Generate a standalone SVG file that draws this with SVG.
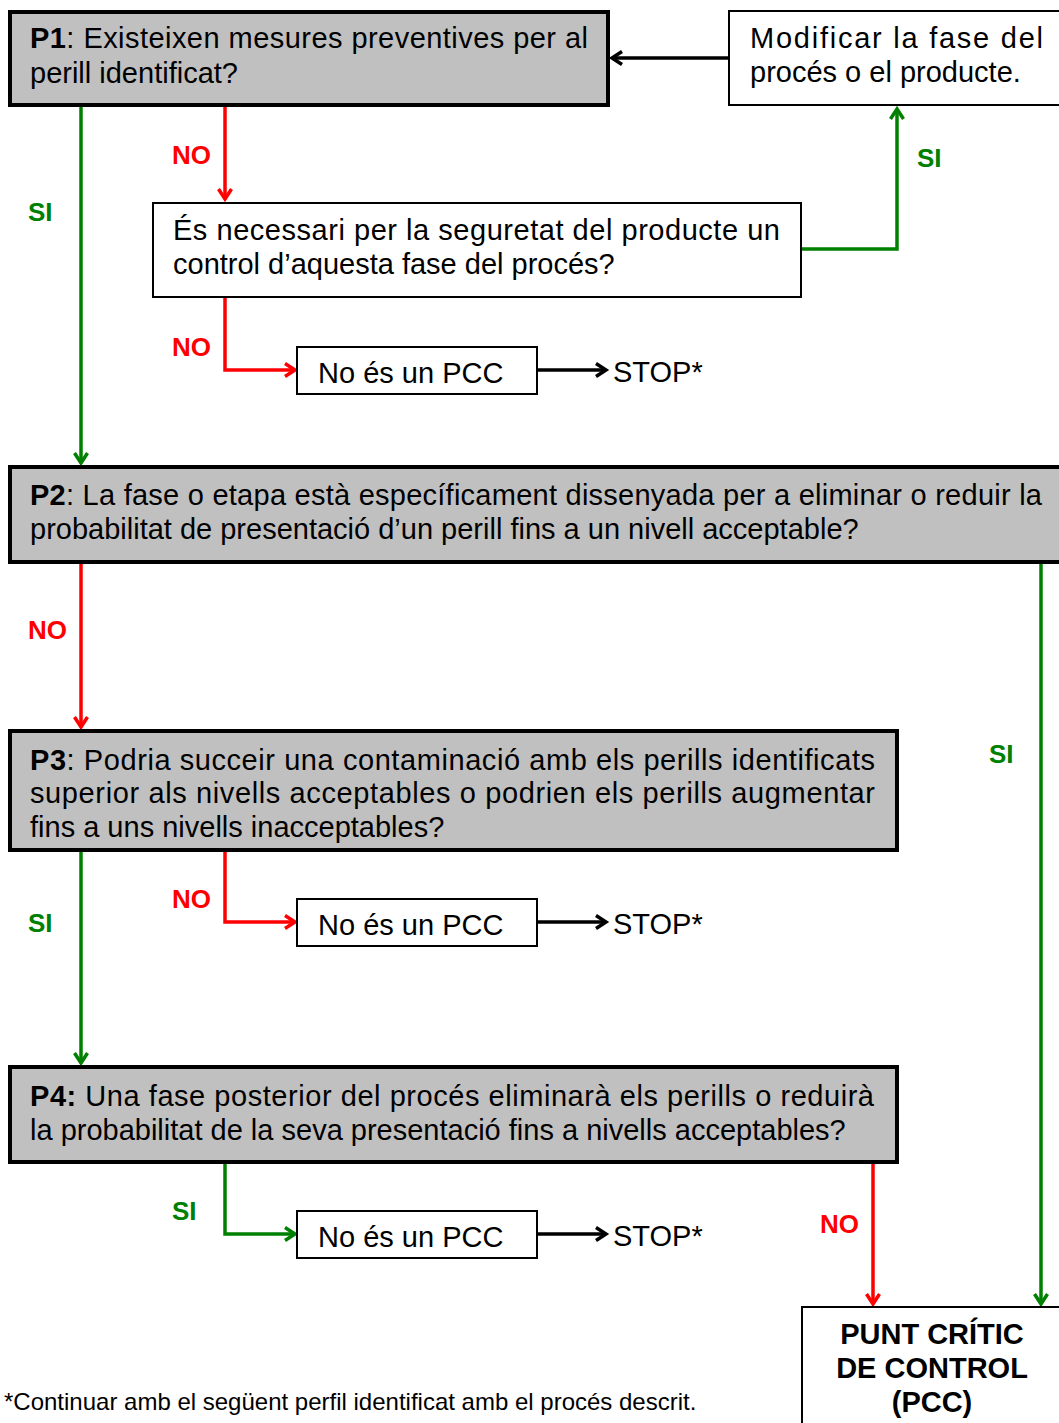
<svg xmlns="http://www.w3.org/2000/svg" width="1059" height="1423" viewBox="0 0 1059 1423">
<style>
.q{fill:#c0c0c0;stroke:#000;stroke-width:4}
.b{fill:#fff;stroke:#000;stroke-width:2}
.t{font-family:"Liberation Sans",Arial,sans-serif;font-size:29px;fill:#000}
.lb{font-family:"Liberation Sans",Arial,sans-serif;font-size:26px;font-weight:bold}
.r{stroke:#ff0000;stroke-width:3.5;fill:none}
.g{stroke:#008000;stroke-width:3.5;fill:none}
.k{stroke:#000;stroke-width:3.5;fill:none}
</style>
<defs>
<marker id="ak" markerUnits="userSpaceOnUse" markerWidth="18" markerHeight="18" refX="13" refY="9" orient="auto"><path d="M3,2.5 L13,9 L3,15.5" fill="none" stroke="#000" stroke-width="3.5"/></marker>
<marker id="ar" markerUnits="userSpaceOnUse" markerWidth="18" markerHeight="18" refX="13" refY="9" orient="auto"><path d="M3,2.5 L13,9 L3,15.5" fill="none" stroke="#ff0000" stroke-width="3.5"/></marker>
<marker id="ag" markerUnits="userSpaceOnUse" markerWidth="18" markerHeight="18" refX="13" refY="9" orient="auto"><path d="M3,2.5 L13,9 L3,15.5" fill="none" stroke="#008000" stroke-width="3.5"/></marker>
</defs>
<rect width="1059" height="1423" fill="#fff"/>
<g id="connectors">
<path class="k" d="M729,58 L612,58" marker-end="url(#ak)"/>
<path class="g" d="M81,106 L81,463" marker-end="url(#ag)"/>
<path class="r" d="M225,106 L225,199" marker-end="url(#ar)"/>
<path class="g" d="M801,249 L897,249 L897,109" marker-end="url(#ag)"/>
<path class="r" d="M225,298 L225,370 L295,370" marker-end="url(#ar)"/>
<path class="k" d="M537,370 L606,370" marker-end="url(#ak)"/>
<path class="r" d="M81,563 L81,727" marker-end="url(#ar)"/>
<path class="g" d="M1041,563 L1041,1304" marker-end="url(#ag)"/>
<path class="g" d="M81,851 L81,1063" marker-end="url(#ag)"/>
<path class="r" d="M225,851 L225,922 L295,922" marker-end="url(#ar)"/>
<path class="k" d="M537,922 L606,922" marker-end="url(#ak)"/>
<path class="g" d="M225,1163 L225,1234 L295,1234" marker-end="url(#ag)"/>
<path class="k" d="M537,1234 L606,1234" marker-end="url(#ak)"/>
<path class="r" d="M873,1163 L873,1304" marker-end="url(#ar)"/>
<text class="lb" x="172" y="164" fill="#ff0000">NO</text>
<text class="lb" x="28" y="221" fill="#008000">SI</text>
<text class="lb" x="917" y="167" fill="#008000">SI</text>
<text class="lb" x="172" y="356" fill="#ff0000">NO</text>
<text class="lb" x="28" y="639" fill="#ff0000">NO</text>
<text class="lb" x="989" y="763" fill="#008000">SI</text>
<text class="lb" x="28" y="932" fill="#008000">SI</text>
<text class="lb" x="172" y="908" fill="#ff0000">NO</text>
<text class="lb" x="172" y="1220" fill="#008000">SI</text>
<text class="lb" x="820" y="1233" fill="#ff0000">NO</text>
</g>
<g id="p1">
<rect class="q" x="10" y="12" width="598" height="93"/>
<text class="t" x="30" y="48" textLength="558" lengthAdjust="spacing"><tspan font-weight="bold">P1</tspan>: Existeixen mesures preventives per al</text>
<text class="t" x="30" y="83">perill identificat?</text>
</g>
<g id="modificar">
<rect class="b" x="729" y="11" width="340" height="94"/>
<text class="t" x="750" y="48" textLength="293" lengthAdjust="spacing">Modificar la fase del</text>
<text class="t" x="750" y="82">procés o el producte.</text>
</g>
<g id="necessari">
<rect class="b" x="153" y="203" width="648" height="94"/>
<text class="t" x="173" y="240" textLength="607" lengthAdjust="spacing">És necessari per la seguretat del producte un</text>
<text class="t" x="173" y="274">control d’aquesta fase del procés?</text>
</g>
<g id="nopcc1">
<rect class="b" x="297" y="347" width="240" height="47"/>
<text class="t" x="318" y="383">No és un PCC</text>
<text class="t" x="613" y="382">STOP*</text>
</g>
<g id="p2">
<rect class="q" x="10" y="467" width="1070" height="95"/>
<text class="t" x="30" y="505" textLength="1012" lengthAdjust="spacing"><tspan font-weight="bold">P2</tspan>: La fase o etapa està específicament dissenyada per a eliminar o reduir la</text>
<text class="t" x="30" y="539">probabilitat de presentació d’un perill fins a un nivell acceptable?</text>
</g>
<g id="p3">
<rect class="q" x="10" y="731" width="887" height="119"/>
<text class="t" x="30" y="770" textLength="845" lengthAdjust="spacing"><tspan font-weight="bold">P3</tspan>: Podria succeir una contaminació amb els perills identificats</text>
<text class="t" x="30" y="803" textLength="845" lengthAdjust="spacing">superior als nivells acceptables o podrien els perills augmentar</text>
<text class="t" x="30" y="837">fins a uns nivells inacceptables?</text>
</g>
<g id="nopcc2">
<rect class="b" x="297" y="899" width="240" height="47"/>
<text class="t" x="318" y="935">No és un PCC</text>
<text class="t" x="613" y="934">STOP*</text>
</g>
<g id="p4">
<rect class="q" x="10" y="1067" width="887" height="95"/>
<text class="t" x="30" y="1106" textLength="844" lengthAdjust="spacing"><tspan font-weight="bold">P4:</tspan> Una fase posterior del procés eliminarà els perills o reduirà</text>
<text class="t" x="30" y="1140">la probabilitat de la seva presentació fins a nivells acceptables?</text>
</g>
<g id="nopcc3">
<rect class="b" x="297" y="1211" width="240" height="47"/>
<text class="t" x="318" y="1247">No és un PCC</text>
<text class="t" x="613" y="1246">STOP*</text>
</g>
<g id="pcc">
<rect class="b" x="802" y="1307" width="270" height="130"/>
<text class="t" x="932" y="1344" font-weight="bold" text-anchor="middle">PUNT CRÍTIC</text>
<text class="t" x="932" y="1378" font-weight="bold" text-anchor="middle">DE CONTROL</text>
<text class="t" x="932" y="1412" font-weight="bold" text-anchor="middle">(PCC)</text>
</g>
<g id="footnote">
<text x="4" y="1410" font-family="Liberation Sans, Arial, sans-serif" font-size="24" fill="#000">*Continuar amb el següent perfil identificat amb el procés descrit.</text>
</g>
</svg>
